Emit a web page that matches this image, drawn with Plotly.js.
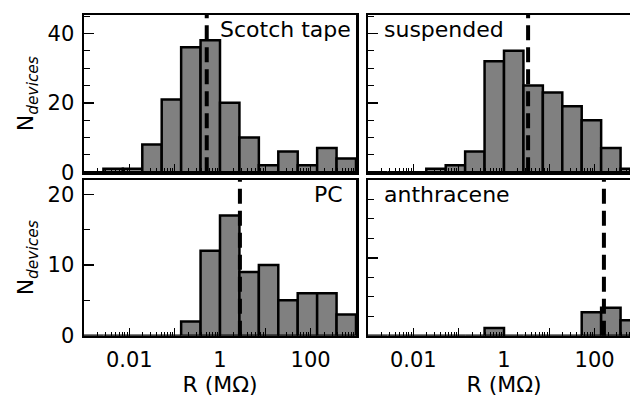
<!DOCTYPE html>
<html>
<head>
<meta charset="utf-8">
<script src="https://cdn.plot.ly/plotly-3.0.1.min.js"></script>
<style>
html,body{margin:0;padding:0;overflow:hidden;background:#fff;}
#chart{width:650px;height:398px;}
</style>
</head>
<body>
<div id="chart"></div>
<script>
// ---- data ----
const panelNames = ["Scotch tape", "suspended", "PC", "anthracene"];
// histogram bin edges (log10 of R in MOhm), 14 equal log bins from 1e-3 to 1e3
const binExpLow = -3, binExpHigh = 3, nBins = 14;
const scotchCounts     = [0, 1, 1, 8, 21, 36, 38, 20, 10, 2, 6, 2, 7, 4];
const suspendedCounts  = [0, 0, 0, 1, 2, 6, 32, 35, 25, 23, 19, 15, 7, 1];
const pcCounts         = [0, 0, 0, 0, 0, 2, 12, 17, 9, 10, 5, 6, 6, 3];
const anthraceneCounts = [0, 0, 0, 0, 0, 0, 1, 0, 0, 0, 0, 3, 3.6, 2];
const medians = [0.51, 3.4, 2.75, 160];   // dashed lines (MOhm)
const xLabelVals = [0.01, 1, 100];
const xLabelText = ["0.01", "1", "100"];
const xOtherDecades = [0.001, 0.1, 10, 1000];

// ---- build ----
const edges = [];
for (let i = 0; i <= nBins; i++) edges.push(Math.pow(10, binExpLow + (binExpHigh - binExpLow) * i / nBins));
const centers = [], widths = [];
for (let i = 0; i < nBins; i++) { centers.push((edges[i] + edges[i + 1]) / 2); widths.push(edges[i + 1] - edges[i]); }

const minorVals = [];
for (let e = -3; e < 3; e++) for (let k = 2; k <= 9; k++) minorVals.push(k * Math.pow(10, e));

const allCounts = [scotchCounts, suspendedCounts, pcCounts, anthraceneCounts];
const axSuffix = ["", "2", "3", "4"];
const traces = allCounts.map((c, i) => ({
  type: "bar", x: centers, y: c, width: widths,
  xaxis: "x" + axSuffix[i], yaxis: "y" + axSuffix[i],
  marker: {color: "#808080", line: {color: "#000", width: 2.5}},
  hoverinfo: "x+y"
}));

const W = 650, H = 398;
const xDomL = [84 / W, 356 / W], xDomR = [368 / W, 640 / W];
const yDomT = [(H - 172.3) / H, (H - 15) / H], yDomB = [(H - 335.7) / H, (H - 180) / H];
const tickFont = {family: "DejaVu Sans, sans-serif", size: 21, color: "#000"};
const labFont = {family: "DejaVu Sans, sans-serif", size: 22, color: "#000"};

function xAx(dom, labels, anchor) {
  const a = {
    type: "log", domain: dom, range: [binExpLow, binExpHigh], anchor: anchor,
    showline: true, mirror: true, linecolor: "#000", linewidth: 2.5,
    ticks: "inside", ticklen: 8, tickwidth: 1.3, tickcolor: "#000",
    tickmode: "array", tickvals: xLabelVals, ticktext: xLabelText,
    showticklabels: labels, ticklabelstandoff: 4,
    minor: {tickmode: "array", tickvals: minorVals, ticks: "inside", ticklen: 4, tickwidth: 1, tickcolor: "#000", showgrid: false},
    showgrid: false, zeroline: false, tickfont: tickFont
  };
  if (labels) a.title = {text: "R (MΩ)", font: labFont, standoff: 4};
  return a;
}
// extra unlabeled decade ticks drawn on an overlaying axis
function xTickOnly(over, anchor) {
  return {
    type: "log", overlaying: over, anchor: anchor, range: [binExpLow, binExpHigh],
    showline: false, ticks: "inside", ticklen: 8, tickwidth: 1.3, tickcolor: "#000",
    tickmode: "array", tickvals: xOtherDecades, showticklabels: false,
    showgrid: false, zeroline: false
  };
}
function yAx(dom, range, tv, minorDt, labels, anchor) {
  const a = {
    domain: dom, range: range, anchor: anchor,
    showline: true, mirror: true, linecolor: "#000", linewidth: 2.5,
    ticks: "inside", ticklen: 10, tickwidth: 1.3, tickcolor: "#000",
    tickmode: "array", tickvals: tv, showticklabels: labels, ticklabelstandoff: 3,
    minor: {dtick: minorDt, tick0: 0, ticks: "inside", ticklen: 6, tickwidth: 1, tickcolor: "#000", showgrid: false},
    showgrid: false, zeroline: false, tickfont: tickFont
  };
  if (labels) a.title = {text: "N<sub><i>devices</i></sub>", font: labFont, standoff: 8};
  return a;
}

// invisible anchor traces for the overlay tick axes
["5", "6", "7", "8"].forEach((s, i) => {
  traces.push({type: "scatter", x: [], y: [], xaxis: "x" + s, yaxis: "y" + axSuffix[i], hoverinfo: "skip", showlegend: false});
});

const shapes = medians.map((m, i) => ({
  type: "line", xref: "x" + axSuffix[i], yref: "y" + axSuffix[i] + " domain",
  x0: m, x1: m, y0: 0, y1: 1, layer: "above",
  line: {color: "#000", width: 4, dash: "15px,7px"}
}));

const annPos = [
  {x: 0.99, xanchor: "right"}, {x: 0.05, xanchor: "left"},
  {x: 0.96, xanchor: "right"}, {x: 0.05, xanchor: "left"}
];
const annotations = panelNames.map((t, i) => ({
  text: t, xref: "x" + axSuffix[i] + " domain", yref: "y" + axSuffix[i] + " domain",
  x: annPos[i].x, xanchor: annPos[i].xanchor, y: 1.0, yanchor: "top",
  showarrow: false, font: labFont
}));

const layout = {
  width: W, height: H, margin: {l: 0, r: 0, t: 0, b: 0},
  paper_bgcolor: "#fff", plot_bgcolor: "#fff", showlegend: false,
  barmode: "overlay", font: tickFont,
  xaxis: xAx(xDomL, false, "y"), yaxis: yAx(yDomT, [0, 45.3], [0, 20, 40], 5, true, "x"),
  xaxis2: xAx(xDomR, false, "y2"), yaxis2: yAx(yDomT, [0, 45.3], [0, 20, 40], 5, false, "x2"),
  xaxis3: xAx(xDomL, true, "y3"), yaxis3: yAx(yDomB, [0, 22], [0, 10, 20], 5, true, "x3"),
  xaxis4: xAx(xDomR, true, "y4"), yaxis4: yAx(yDomB, [0, 20], [0, 10, 20], 2.5, false, "x4"),
  xaxis5: xTickOnly("x", "y"), xaxis6: xTickOnly("x2", "y2"),
  xaxis7: xTickOnly("x3", "y3"), xaxis8: xTickOnly("x4", "y4"),
  shapes: shapes, annotations: annotations
};

Plotly.newPlot("chart", traces, layout, {displayModeBar: false, staticPlot: true});
</script>
</body>
</html>
